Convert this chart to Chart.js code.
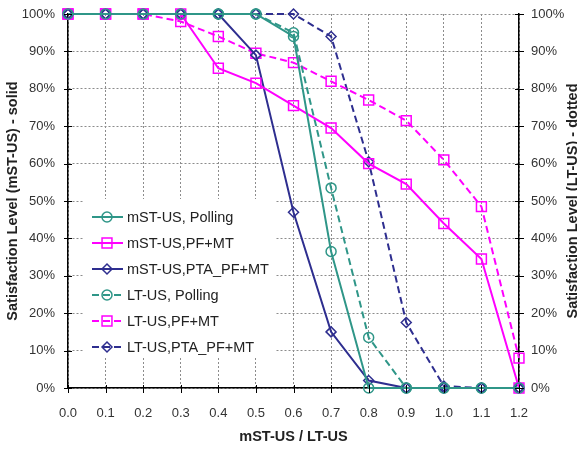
<!DOCTYPE html>
<html>
<head>
<meta charset="utf-8">
<script src="https://cdn.jsdelivr.net/npm/chart.js@4.4.0/dist/chart.umd.min.js"></script>
<style>
  html, body { margin: 0; padding: 0; background: #fff; }
  canvas { display: block; }
</style>
</head>
<body>
<canvas id="chart" width="577" height="449"></canvas>
<script>
// --- Data ---
const xLabels = ["0.0", "0.1", "0.2", "0.3", "0.4", "0.5", "0.6", "0.7", "0.8", "0.9", "1.0", "1.1", "1.2"];
const yTicks = [0, 10, 20, 30, 40, 50, 60, 70, 80, 90, 100];

const mstPolling = [100, 100, 100, 100, 100, 100, 94, 36.5, 0, 0, 0, 0, 0];
const mstPfMt    = [100, 100, 100, 100, 85.5, 81.5, 75.5, 69.5, 60, 54.5, 44, 34.5, 0];
const mstPta     = [100, 100, 100, 100, 100, 89, 47, 15, 2, 0, 0, 0, 0];
const ltPolling  = [100, 100, 100, 100, 100, 100, 95, 53.5, 13.5, 0, 0, 0, 0];
const ltPfMt     = [100, 100, 100, 98, 94, 89.5, 87, 82, 77, 71.5, 61, 48.5, 8];
const ltPta      = [100, 100, 100, 100, 100, 100, 100, 94, 60.5, 17.5, 0.5, 0, 0];

const seriesNames = [
  "mST-US, Polling",
  "mST-US,PF+MT",
  "mST-US,PTA_PF+MT",
  "LT-US, Polling",
  "LT-US,PF+MT",
  "LT-US,PTA_PF+MT",
];

const TEAL = "#2f9688";
const MAGENTA = "#ff00ff";
const NAVY = "#2e2e8f";
const DASH = [7, 4];
const FONT = "'Liberation Sans', Arial, sans-serif";

function makeSet(label, data, color, style, radius, dashed) {
  return {
    label: label,
    data: data,
    borderColor: color,
    backgroundColor: "rgba(255,255,255,0)",
    borderWidth: 2,
    borderDash: dashed ? DASH : [],
    pointStyle: style,
    pointRadius: radius,
    pointBorderWidth: 1.5,
    pointBorderColor: color,
    pointBackgroundColor: "rgba(255,255,255,0)",
    tension: 0,
    clip: false,
  };
}

const datasets = [
  makeSet(seriesNames[0], mstPolling, TEAL, "circle", 5, false),
  makeSet(seriesNames[1], mstPfMt, MAGENTA, "rect", 7, false),
  makeSet(seriesNames[2], mstPta, NAVY, "rectRot", 5, false),
  makeSet(seriesNames[3], ltPolling, TEAL, "circle", 5, true),
  makeSet(seriesNames[4], ltPfMt, MAGENTA, "rect", 7, true),
  makeSet(seriesNames[5], ltPta, NAVY, "rectRot", 5, true),
];

// --- Plugin: cross tick marks, in-plot legend and right title ---
const extras = {
  id: "extras",
  afterDatasetsDraw(chart) {
    const ctx = chart.ctx;
    const area = chart.chartArea;
    const yL = chart.scales.y;
    const yR = chart.scales.y2;
    const x = chart.scales.x;

    // cross ticks
    ctx.save();
    ctx.strokeStyle = "#000";
    ctx.lineWidth = 1;
    ctx.beginPath();
    yTicks.forEach((v) => {
      const py = Math.round(yL.getPixelForValue(v)) + 0.5;
      ctx.moveTo(area.left - 4, py);
      ctx.lineTo(area.left + 4, py);
      const pr = Math.round(yR.getPixelForValue(v)) + 0.5;
      ctx.moveTo(area.right - 4, pr);
      ctx.lineTo(area.right + 5, pr);
    });
    xLabels.forEach((_, i) => {
      const px = Math.round(x.getPixelForValue(i)) + 0.5;
      ctx.moveTo(px, area.bottom - 3);
      ctx.lineTo(px, area.bottom + 5);
    });
    ctx.stroke();
    ctx.restore();

    // legend box
    ctx.save();
    ctx.fillStyle = "#fff";
    ctx.fillRect(83, 199, 193, 158);
    ctx.font = "14.5px " + FONT;
    ctx.textBaseline = "middle";
    chart.data.datasets.forEach((ds, i) => {
      const ly = 217 + i * 26;
      ctx.strokeStyle = ds.borderColor;
      ctx.lineWidth = 2;
      ctx.setLineDash(ds.borderDash);
      ctx.beginPath();
      ctx.moveTo(92, ly);
      ctx.lineTo(123, ly);
      ctx.stroke();
      ctx.setLineDash([]);
      const opts = {
        pointStyle: ds.pointStyle,
        radius: ds.pointRadius,
        borderWidth: ds.pointBorderWidth,
        rotation: 0,
      };
      ctx.fillStyle = "rgba(255,255,255,0)";
      ctx.lineWidth = ds.pointBorderWidth;
      if (Chart.helpers && Chart.helpers.drawPoint) {
        Chart.helpers.drawPoint(ctx, opts, 107, ly);
      }
      ctx.fillStyle = "#222";
      ctx.fillText(ds.label, 127, ly + 1);
    });
    ctx.restore();

    // right axis title (reads bottom-to-top, like the left one)
    ctx.save();
    ctx.translate(573, (area.top + area.bottom) / 2);
    ctx.rotate(-Math.PI / 2);
    ctx.font = "bold 14.5px " + FONT;
    ctx.fillStyle = "#222";
    ctx.textAlign = "center";
    ctx.textBaseline = "middle";
    ctx.fillText("Satisfaction Level (LT-US) - dotted", 0, 0);
    ctx.restore();
  },
};

const gridColor = "#8c8c8c";
const NO_COLOR = "rgba(0,0,0,0)";

new Chart(document.getElementById("chart"), {
  type: "line",
  data: { labels: xLabels, datasets: datasets },
  plugins: [extras],
  options: {
    responsive: false,
    animation: false,
    layout: { padding: { top: 14, left: 0, right: 0, bottom: 0 } },
    plugins: { legend: { display: false }, tooltip: { enabled: false } },
    scales: {
      x: {
        type: "category",
        offset: false,
        grid: { color: gridColor, lineWidth: 1, drawTicks: false },
        border: { display: true, color: "#000", width: 1.5, dash: [2, 2] },
        ticks: {
          color: "#333",
          font: { family: FONT, size: 13 },
          padding: 18,
          maxRotation: 0,
          autoSkip: false,
        },
        title: {
          display: true,
          text: "mST-US / LT-US",
          color: "#222",
          font: { family: FONT, size: 14.5, weight: "bold" },
          padding: { top: 0, bottom: 3 },
        },
        afterFit(scale) { scale.height = 61; },
      },
      y: {
        position: "left",
        min: 0,
        max: 100,
        grid: { color: gridColor, lineWidth: 1, drawTicks: true, tickLength: 13, tickColor: NO_COLOR },
        border: { display: true, color: "#000", width: 1.5, dash: [2, 2] },
        ticks: {
          stepSize: 10,
          color: "#333",
          font: { family: FONT, size: 13 },
          padding: 0,
          callback: (v) => v + "%",
        },
        title: {
          display: true,
          text: "Satisfaction Level (mST-US) - solid",
          color: "#222",
          font: { family: FONT, size: 14.5, weight: "bold" },
          padding: { top: 4, bottom: 0 },
        },
        afterFit(scale) { scale.width = 68; },
      },
      y2: {
        position: "right",
        min: 0,
        max: 100,
        grid: { drawOnChartArea: false, drawTicks: true, tickLength: 12, tickColor: NO_COLOR },
        border: { display: true, color: "#000", width: 1.5 },
        ticks: {
          stepSize: 10,
          color: "#333",
          font: { family: FONT, size: 13 },
          padding: 0,
          callback: (v) => v + "%",
        },
        afterFit(scale) { scale.width = 58; },
      },
    },
  },
});
</script>
</body>
</html>
